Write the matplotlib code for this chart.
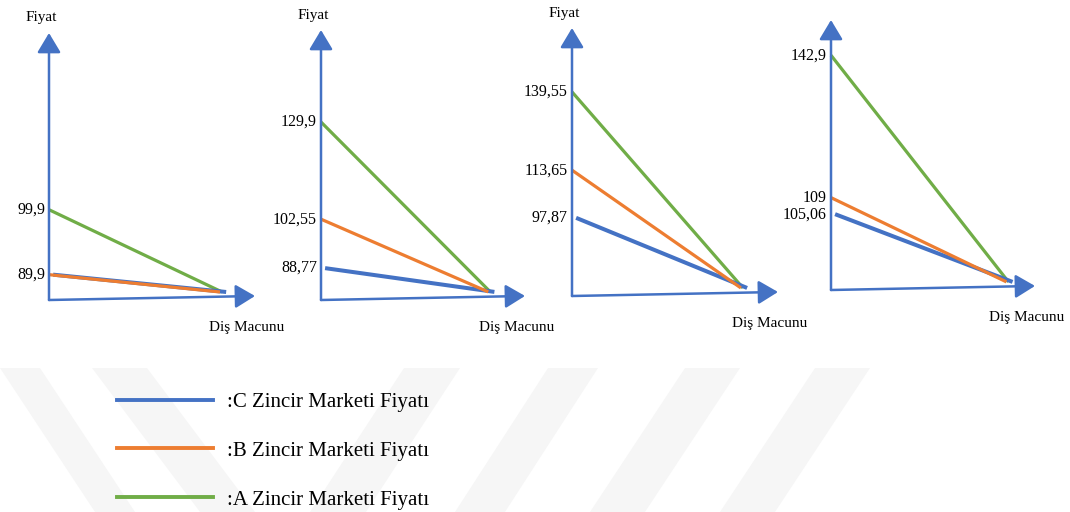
import matplotlib
matplotlib.use("Agg")
import matplotlib.pyplot as plt
from matplotlib.lines import Line2D
from matplotlib.patches import Polygon

plt.rcParams["font.family"] = ["Liberation Serif", "DejaVu Serif"]

# Prices per panel (C, B, A chain markets)
price_c = [89.9, 88.77, 97.87, 105.06]
price_b = [89.9, 102.55, 113.65, 109]
price_a = [99.9, 129.9, 139.55, 142.9]
show_fiyat = [True, True, True, False]
series_names = [":C Zincir Marketi Fiyatı", ":B Zincir Marketi Fiyatı", ":A Zincir Marketi Fiyatı"]

c_blue = "#4472C4"
c_orange = "#ED7D31"
c_green = "#70AD47"

W, H = 1070, 512
fig = plt.figure(figsize=(W / 100, H / 100), dpi=100)

# background watermark stripes (pixel coords)
bg = fig.add_axes([0, 0, 1, 1], zorder=0)
bg.set_xlim(0, W)
bg.set_ylim(H, 0)
bg.axis("off")
stripes = [
    [(0, 368), (40, 368), (135, 512), (95, 512)],
    [(92, 368), (147, 368), (255, 512), (200, 512)],
    [(404, 368), (460, 368), (366, 512), (310, 512)],
    [(548, 368), (598, 368), (505, 512), (455, 512)],
    [(685, 368), (740, 368), (645, 512), (590, 512)],
    [(815, 368), (870, 368), (775, 512), (720, 512)],
]
for s in stripes:
    bg.add_patch(Polygon(s, closed=True, color="#f6f6f6", lw=0))

# panel boxes: origin x, origin y, x-arrow tip, y-arrow tip (pixels from top-left)
boxes = [(49, 300, 255, 33), (321, 300, 525, 30), (572, 296, 778, 28), (831, 290, 1035, 20)]
y_ranges = [(86.0, 127.1), (79.8, 155.8), (72.0, 160.7), (87.0, 151.3)]
x_ends = [0.84, 0.83, 0.83, 0.87]


def fmt(v):
    return f"{v:g}".replace(".", ",")


for i, (x0, y0, x1, y1) in enumerate(boxes):
    ax = fig.add_axes([x0 / W, 1 - y0 / H, (x1 - x0) / W, (y0 - y1) / H], zorder=2)
    ax.patch.set_alpha(0)
    ax.axis("off")
    lo, hi = y_ranges[i]
    ax.set_xlim(0, 1)
    ax.set_ylim(lo, hi)
    end_y = lo + 0.03 * (hi - lo)
    x_end = x_ends[i]

    ax.plot([0, x_end], [price_a[i], end_y], color=c_green, lw=2.3, solid_capstyle="butt", clip_on=False)
    ax.plot([0.02, x_end + 0.02], [price_c[i], end_y], color=c_blue, lw=2.9, solid_capstyle="butt", clip_on=False)
    ax.plot([0, x_end - 0.01], [price_b[i], end_y], color=c_orange, lw=2.3, solid_capstyle="butt", clip_on=False)

    # arrow axes
    arrow = dict(arrowstyle="-|>,head_length=0.5,head_width=0.3", color=c_blue, lw=1.8,
                 mutation_scale=24, shrinkA=0, shrinkB=0)
    ax.annotate("", xy=(0, 1), xytext=(0, 0), xycoords="axes fraction", arrowprops=arrow)
    ax.annotate("", xy=(1, 0.015), xytext=(0, 0), xycoords="axes fraction", arrowprops=arrow)

    # value labels
    labels = sorted(set([price_c[i], price_b[i], price_a[i]]))
    for v in labels:
        ax.annotate(fmt(v), xy=(0, v), xycoords=("axes fraction", "data"),
                    xytext=(-4, 0), textcoords="offset pixels",
                    ha="right", va="center", fontsize=11.5)

    if show_fiyat[i]:
        ax.annotate("Fiyat", xy=(0, 1), xycoords="axes fraction",
                    xytext=(-8, 15), textcoords="offset pixels",
                    ha="center", va="center", fontsize=11)
    ax.annotate("Diş Macunu", xy=(1, 0), xycoords="axes fraction",
                xytext=(-8, -27), textcoords="offset pixels",
                ha="center", va="center", fontsize=11)

# legend
handles = [
    Line2D([], [], color=c_blue, lw=2.8),
    Line2D([], [], color=c_orange, lw=2.8),
    Line2D([], [], color=c_green, lw=2.8),
]
fig.legend(handles, series_names, loc="center left", bbox_to_anchor=(117 / W, 1 - 451 / H),
           frameon=False, fontsize=15, handlelength=4.6, handletextpad=0.7,
           labelspacing=1.4, borderpad=0, borderaxespad=0)

fig.savefig("out.png", dpi=100)
